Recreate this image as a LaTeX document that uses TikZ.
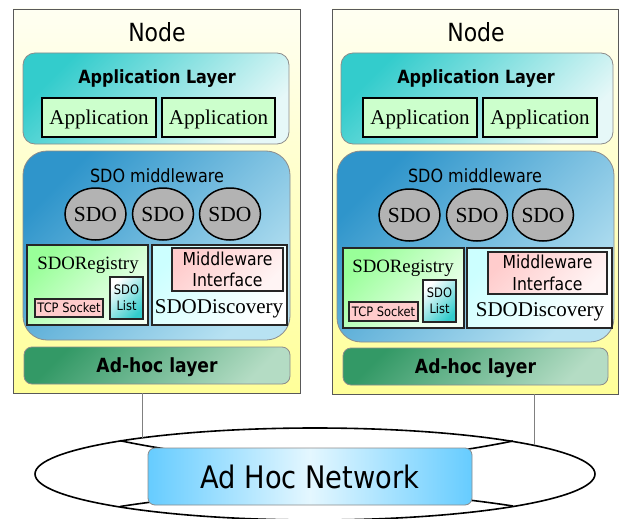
\documentclass[tikz,border=0pt]{standalone}
\usepackage{fontspec}
\setmainfont{Liberation Serif}
\newfontfamily\tah{DejaVu Sans}[FakeStretch=0.88]
\usetikzlibrary{shapes.geometric}
\definecolor{nodetop}{HTML}{FFFFF2}
\definecolor{nodebot}{HTML}{FFFF99}
\definecolor{apptop}{HTML}{33CCCC}
\definecolor{appbot}{HTML}{E6F8F8}
\definecolor{mwtop}{HTML}{2F95CB}
\definecolor{mwbot}{HTML}{B8E2F2}
\definecolor{appbox}{HTML}{CCFFCC}
\definecolor{sdogray}{HTML}{B3B3B3}
\definecolor{regtop}{HTML}{99FF99}
\definecolor{regbot}{HTML}{F4FFF4}
\definecolor{listtop}{HTML}{FFFFFF}
\definecolor{listbot}{HTML}{33CCCC}
\definecolor{pink}{HTML}{FFCCCC}
\definecolor{pinkbot}{HTML}{FFF4F4}
\definecolor{disctop}{HTML}{CCFFFF}
\definecolor{discbot}{HTML}{FFFFFF}
\definecolor{adtop}{HTML}{339966}
\definecolor{adbot}{HTML}{B4DCC4}
\definecolor{netedge}{HTML}{66CCFF}
\definecolor{netmid}{HTML}{E4F7FF}
\tikzset{
  every node/.style={inner sep=0pt, outer sep=0pt, align=center},
  nodebox/.style={draw=black!65, line width=0.8pt, top color=nodetop, bottom color=nodebot},
  applayer/.style={draw=black!45, line width=0.8pt, rounded corners=12pt, top color=apptop, bottom color=appbot, shading angle=45},
  mwlayer/.style={draw=black!45, line width=0.8pt, rounded corners=24pt, top color=mwtop, bottom color=mwbot, shading angle=45},
  adlayer/.style={draw=black!45, line width=0.8pt, rounded corners=8pt, top color=adtop, bottom color=adbot, shading angle=45},
  appbx/.style={draw=black, line width=2pt, fill=appbox},
  sdoell/.style={ellipse, draw=black, line width=1.5pt, fill=sdogray, minimum width=61pt, minimum height=52pt},
  regbx/.style={draw=black!85, line width=2pt, top color=regtop, bottom color=regbot, shading angle=45},
  listbx/.style={draw=black!85, line width=2pt, top color=listtop, bottom color=listbot, shading angle=45},
  tcpbx/.style={draw=black!85, line width=1.5pt, fill=pink},
  discbx/.style={draw=black!85, line width=2pt, top color=disctop, bottom color=discbot, shading angle=45},
  mibx/.style={draw=black!85, line width=2pt, top color=pink, bottom color=pinkbot, shading angle=45},
  nodetxt/.style={font=\tah\fontsize{25}{28}\selectfont},
  laytxt/.style={font=\tah\bfseries\fontsize{18.2}{21}\selectfont, text depth=0pt},
  mwtxt/.style={font=\tah\fontsize{18.2}{21}\selectfont},
  apptxt/.style={font=\fontsize{21}{24}\selectfont, text depth=0pt},
  sdotxt/.style={font=\fontsize{21.5}{24}\selectfont},
  regtxt/.style={font=\fontsize{18.8}{21}\selectfont},
  disctxt/.style={font=\fontsize{21}{23}\selectfont},
  mitxt/.style={font=\tah\fontsize{17.8}{21.5}\selectfont},
  smalltxt/.style={font=\tah\fontsize{13}{16.5}\selectfont},
  adtxt/.style={font=\tah\bfseries\fontsize{19.5}{22}\selectfont, text depth=0pt},
  nettxt/.style={font=\tah\fontsize{31}{34}\selectfont},
  link/.style={draw=black!50, line width=0.9pt},
}
\begin{document}
\begin{tikzpicture}[x=1pt,y=-1pt]
\useasboundingbox (0,0) rectangle (621,519);
% ---------- left node ----------
\node[nodebox, minimum width=287pt, minimum height=384pt] (nodeL) at (156.5,201) {};
\node[nodetxt] (nodeLt) at (157,32) {Node};
\node[applayer, minimum width=266pt, minimum height=91pt] (appL) at (156,98.5) {};
\node[laytxt] (appLt) at (157,77) {Application Layer};
\node[appbx, minimum width=114pt, minimum height=39pt, apptxt] (a1L) at (99,117.5) {Application};
\node[appbx, minimum width=113pt, minimum height=39pt, apptxt] (a2L) at (218.5,117.5) {Application};
\node[mwlayer, minimum width=267pt, minimum height=189pt] (mwL) at (156.5,245.5) {};
\node[mwtxt] (mwLt) at (157,176) {SDO middleware};
\node[sdoell, sdotxt] (s1L) at (95.5,214) {SDO};
\node[sdoell, sdotxt] (s2L) at (163,214) {SDO};
\node[sdoell, sdotxt] (s3L) at (230,214) {SDO};
\node[regbx, minimum width=121pt, minimum height=80pt] (regL) at (87.5,285) {};
\node[regtxt] (regLt) at (88,265) {SDORegistry};
\node[listbx, minimum width=33pt, minimum height=42pt, smalltxt] (listL) at (126.5,298) {SDO\\List};
\node[tcpbx, minimum width=68pt, minimum height=18pt, smalltxt] (tcpL) at (69,308) {TCP Socket};
\node[discbx, minimum width=135pt, minimum height=80pt] (discL) at (219.5,285) {};
\node[mibx, minimum width=111pt, minimum height=43pt, mitxt] (miL) at (227.5,269.5) {Middleware\\Interface};
\node[disctxt] (discLt) at (219,309) {SDODiscovery};
\node[adlayer, minimum width=266pt, minimum height=37pt, adtxt] (adL) at (157,365.5) {Ad-hoc layer};
% ---------- right node ----------
\node[nodebox, minimum width=286pt, minimum height=385pt] (nodeR) at (475,201.5) {};
\node[nodetxt] (nodeRt) at (476,32) {Node};
\node[applayer, minimum width=272pt, minimum height=91pt] (appR) at (477,98.5) {};
\node[laytxt] (appRt) at (476,77) {Application Layer};
\node[appbx, minimum width=114pt, minimum height=39pt, apptxt] (a1R) at (420,117.5) {Application};
\node[appbx, minimum width=114pt, minimum height=39pt, apptxt] (a2R) at (540,117.5) {Application};
\node[mwlayer, minimum width=277pt, minimum height=191pt] (mwR) at (475.5,246.5) {};
\node[mwtxt] (mwRt) at (475,176) {SDO middleware};
\node[sdoell, sdotxt] (s1R) at (409.5,215) {SDO};
\node[sdoell, sdotxt] (s2R) at (477,215) {SDO};
\node[sdoell, sdotxt] (s3R) at (543,215) {SDO};
\node[regbx, minimum width=121pt, minimum height=80pt] (regR) at (403.5,288) {};
\node[regtxt] (regRt) at (403,268) {SDORegistry};
\node[listbx, minimum width=33pt, minimum height=42pt, smalltxt] (listR) at (439.5,301) {SDO\\List};
\node[tcpbx, minimum width=69pt, minimum height=19pt, smalltxt] (tcpR) at (383.5,311.5) {TCP Socket};
\node[discbx, minimum width=145pt, minimum height=80pt] (discR) at (539.5,288) {};
\node[mibx, minimum width=119pt, minimum height=42pt, mitxt] (miR) at (547.5,273) {Middleware\\Interface};
\node[disctxt] (discRt) at (540,312) {SDODiscovery};
\node[adlayer, minimum width=265pt, minimum height=37pt, adtxt] (adR) at (475.5,366.5) {Ad-hoc layer};
% ---------- network ring ----------
\node[ellipse, draw=black, line width=1.6pt, fill=white, minimum width=560pt, minimum height=92pt] (ring) at (315,474) {};
\coordinate (v1) at (120,440.7);
\coordinate (v2) at (513,441);
\coordinate (v3) at (120,506.5);
\coordinate (v4) at (513,506);
\draw[line width=1.6pt] (v1) .. controls (250.7,467.6) and (381.7,467.7) .. (v2);
\draw[line width=1.6pt] (v3) .. controls (250.7,486.4) and (381.7,486) .. (v4);
\node[draw=black!45, line width=0.8pt, rounded corners=7pt, left color=netedge, right color=netedge, middle color=netmid, minimum width=324pt, minimum height=57pt, nettxt] (net) at (310,476.5) {Ad Hoc Network};
% ---------- links ----------
\coordinate (lt) at (142,437.6);
\coordinate (rt) at (534,445);
\draw[link] (nodeL.south -| lt) -- (lt);
\draw[link] (nodeR.south -| rt) -- (rt);
\end{tikzpicture}
\end{document}
